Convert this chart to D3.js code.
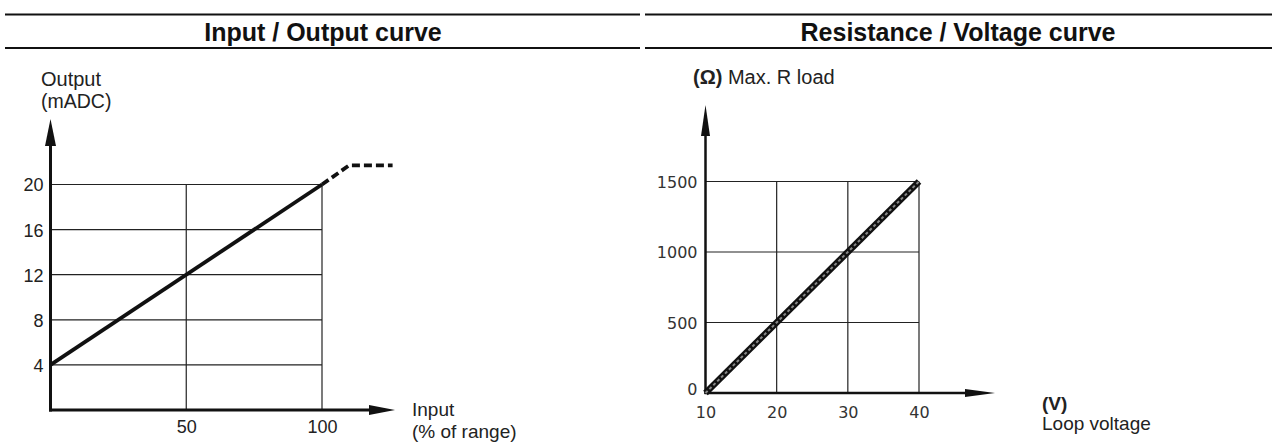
<!DOCTYPE html>
<html><head><meta charset="utf-8">
<script src="https://cdn.jsdelivr.net/npm/d3@7"></script>
<style>
body{margin:0;background:#fff;}
svg{display:block;}
</style></head>
<body>
<svg id="c" width="1272" height="444"></svg>
<script>
// ---- Data ----
const titles = ["Input / Output curve", "Resistance / Voltage curve"];
// Left chart: Input (% of range) vs Output (mADC)
const ioTicksY = [4, 8, 12, 16, 20];
const ioTicksX = [50, 100];
const ioLine = [[0, 4], [100, 20]];
const ioSaturation = [[100, 20], [110, 21.7], [126, 21.7]];
// Right chart: Loop voltage (V) vs Max. R load (Ω)
const rvTicksY = [0, 500, 1000, 1500];
const rvTicksX = [10, 20, 30, 40];
const rvLine = [[10, 0], [40, 1500]];

const svg = d3.select("#c");
const sans = "'Liberation Sans', Arial, sans-serif";
const thin = "'DejaVu Sans', sans-serif";

// ---- Headers ----
function header(x0, x1, cx, text) {
  svg.append("line").attr("x1", x0).attr("x2", x1).attr("y1", 14.5).attr("y2", 14.5)
    .attr("stroke", "#111").attr("stroke-width", 2.2);
  svg.append("line").attr("x1", x0).attr("x2", x1).attr("y1", 48).attr("y2", 48)
    .attr("stroke", "#111").attr("stroke-width", 2.2);
  svg.append("text").attr("x", cx).attr("y", 40.5).attr("text-anchor", "middle")
    .attr("font-family", sans).attr("font-weight", "bold").attr("font-size", 25)
    .attr("fill", "#111").text(text);
}
header(5, 640, 323, titles[0]);
header(645, 1272, 958, titles[1]);

// ---- Left chart ----
const xL = d3.scaleLinear().domain([0, 100]).range([50.5, 322]);
const yL = d3.scaleLinear().domain([0, 20]).range([410, 184.5]);
const gL = svg.append("g");

gL.selectAll(".hg").data(ioTicksY).join("line")
  .attr("x1", xL(0)).attr("x2", xL(100)).attr("y1", d => yL(d)).attr("y2", d => yL(d))
  .attr("stroke", "#222").attr("stroke-width", 1.2);
gL.selectAll(".vg").data(ioTicksX).join("line")
  .attr("x1", d => xL(d)).attr("x2", d => xL(d)).attr("y1", yL(0)).attr("y2", yL(20))
  .attr("stroke", "#222").attr("stroke-width", 1.2);

const axYL = gL.append("g").attr("transform", `translate(${xL(0) - 7},0)`)
  .call(d3.axisLeft(yL).tickValues(ioTicksY).tickSize(0).tickPadding(0).tickFormat(d3.format("d")));
axYL.select(".domain").remove();
axYL.selectAll("text").attr("font-family", sans).attr("font-size", 18).attr("fill", "#222").attr("dy", "0.36em");
const axXL = gL.append("g").attr("transform", `translate(0,${yL(0) + 10})`)
  .call(d3.axisBottom(xL).tickValues(ioTicksX).tickSize(0).tickPadding(0).tickFormat(d3.format("d")));
axXL.select(".domain").remove();
axXL.selectAll("text").attr("font-family", sans).attr("font-size", 18).attr("fill", "#222").attr("dy", "0.72em");

gL.append("line").attr("x1", xL(0)).attr("x2", xL(0)).attr("y1", yL(0) + 1.5).attr("y2", 140)
  .attr("stroke", "#111").attr("stroke-width", 3);
gL.append("path").attr("d", `M${xL(0)},119 L${xL(0) - 5.5},146 L${xL(0) + 5.5},146 Z`).attr("fill", "#111");
gL.append("line").attr("x1", xL(0) - 1.5).attr("x2", 375).attr("y1", yL(0)).attr("y2", yL(0))
  .attr("stroke", "#111").attr("stroke-width", 3);
gL.append("path").attr("d", `M395,${yL(0)} L369,${yL(0) - 5} L369,${yL(0) + 5} Z`).attr("fill", "#111");

const lineL = d3.line().x(d => xL(d[0])).y(d => yL(d[1]));
gL.append("path").attr("d", lineL(ioLine)).attr("fill", "none")
  .attr("stroke", "#111").attr("stroke-width", 3.8);
gL.append("path").attr("d", lineL(ioSaturation)).attr("fill", "none")
  .attr("stroke", "#111").attr("stroke-width", 3.8).attr("stroke-dasharray", "8,4");

const tt = (g, x, y, s, size) => g.append("text").attr("x", x).attr("y", y)
  .attr("font-family", sans).attr("font-size", size).attr("fill", "#222").text(s);
tt(gL, 41, 86, "Output", 20);
tt(gL, 41, 108, "(mADC)", 19.5);
tt(gL, 412, 416, "Input", 19);
tt(gL, 412, 438, "(% of range)", 19);

// ---- Right chart ----
const xR = d3.scaleLinear().domain([10, 40]).range([705.5, 919]);
const yR = d3.scaleLinear().domain([0, 1500]).range([393, 181.5]);
const gR = svg.append("g");

gR.selectAll(".hg").data(rvTicksY.filter(d => d > 0)).join("line")
  .attr("x1", xR(10)).attr("x2", xR(40)).attr("y1", d => yR(d)).attr("y2", d => yR(d))
  .attr("stroke", "#222").attr("stroke-width", 1.2);
gR.selectAll(".vg").data(rvTicksX.filter(d => d > 10)).join("line")
  .attr("x1", d => xR(d)).attr("x2", d => xR(d)).attr("y1", yR(0)).attr("y2", yR(1500))
  .attr("stroke", "#222").attr("stroke-width", 1.2);

const axYR = gR.append("g").attr("transform", `translate(${xR(10) - 8},0)`)
  .call(d3.axisLeft(yR).tickValues(rvTicksY).tickSize(0).tickPadding(0).tickFormat(d3.format("d")));
axYR.select(".domain").remove();
axYR.selectAll("text").attr("font-family", thin).attr("font-size", 16).attr("fill", "#333").attr("dy", "0.36em");
axYR.selectAll("text").filter(d => d === 0).attr("dy", "0.1em");
const axXR = gR.append("g").attr("transform", `translate(0,${yR(0) + 13})`)
  .call(d3.axisBottom(xR).tickValues(rvTicksX).tickSize(0).tickPadding(0).tickFormat(d3.format("d")));
axXR.select(".domain").remove();
axXR.selectAll("text").attr("font-family", thin).attr("font-size", 16).attr("fill", "#333").attr("dy", "0.75em");

gR.append("line").attr("x1", xR(10)).attr("x2", xR(10)).attr("y1", yR(0) + 1).attr("y2", 125)
  .attr("stroke", "#111").attr("stroke-width", 2.5);
gR.append("path").attr("d", `M${xR(10)},105 L${xR(10) - 4.5},136 L${xR(10) + 4.5},136 Z`).attr("fill", "#111");
gR.append("line").attr("x1", xR(10) - 1).attr("x2", 975).attr("y1", yR(0)).attr("y2", yR(0))
  .attr("stroke", "#111").attr("stroke-width", 2.5);
gR.append("path").attr("d", `M995,${yR(0)} L965,${yR(0) - 4} L965,${yR(0) + 4} Z`).attr("fill", "#111");

const lineR = d3.line().x(d => xR(d[0])).y(d => yR(d[1]));
gR.append("path").attr("d", lineR(rvLine)).attr("fill", "none")
  .attr("stroke", "#111").attr("stroke-width", 6.5);
gR.append("path").attr("d", lineR(rvLine)).attr("fill", "none")
  .attr("stroke", "#888").attr("stroke-width", 2).attr("stroke-dasharray", "3,2.5");

gR.append("text").attr("x", 693).attr("y", 84).attr("font-family", sans).attr("font-size", 20)
  .attr("fill", "#222")
  .call(t => {
    t.append("tspan").attr("font-weight", "bold").text("(Ω)");
    t.append("tspan").text(" Max. R load");
  });
gR.append("text").attr("x", 1042).attr("y", 410).attr("font-family", sans).attr("font-size", 19)
  .attr("font-weight", "bold").attr("fill", "#222").text("(V)");
gR.append("text").attr("x", 1042).attr("y", 430).attr("font-family", sans).attr("font-size", 19)
  .attr("fill", "#222").text("Loop voltage");
</script>
</body></html>
